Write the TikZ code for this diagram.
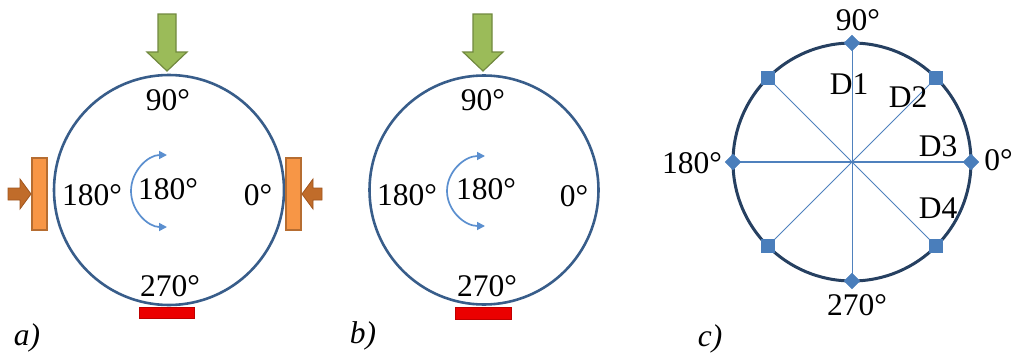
\documentclass[tikz,border=0pt]{standalone}
\usepackage{fontspec}
\setmainfont{Liberation Serif}
\usetikzlibrary{shapes.geometric,arrows.meta}
\definecolor{ringblue}{RGB}{56,93,138}
\definecolor{ringdark}{RGB}{38,64,97}
\definecolor{spoke}{RGB}{79,129,189}
\definecolor{markc}{RGB}{74,126,187}
\definecolor{gfill}{RGB}{155,187,89}
\definecolor{gdraw}{RGB}{113,137,63}
\definecolor{ofill}{RGB}{247,150,70}
\definecolor{odraw}{RGB}{182,109,49}
\definecolor{bfill}{RGB}{192,108,42}
\definecolor{bdraw}{RGB}{160,85,30}
\definecolor{rfill}{RGB}{235,0,0}
\definecolor{rdraw}{RGB}{190,0,0}
\definecolor{rotc}{RGB}{91,143,207}
\begin{document}
\begin{tikzpicture}[x=1pt,y=-1pt,
  lbl/.style={anchor=base,inner sep=0pt,font=\fontsize{31.5}{36}\selectfont},
  ring/.style={circle,draw=ringblue,line width=2.6pt,inner sep=0pt},
  ringc/.style={circle,draw=ringdark,line width=3pt,inner sep=0pt},
  loadarrow/.style={fill=gfill,draw=gdraw,line width=1.2pt,line join=miter},
  pad/.style={fill=ofill,draw=odraw,line width=1.5pt},
  padarrow/.style={fill=bfill,draw=bdraw,line width=0.8pt},
  support/.style={fill=rfill,draw=rdraw,line width=1pt},
  rotarrow/.style={draw=rotc,line width=1.7pt,{Triangle[length=8pt,width=8pt]}-{Triangle[length=8pt,width=8pt]}},
  thinspoke/.style={draw=spoke,line width=0.8pt},
  thickspoke/.style={draw=spoke,line width=2pt},
  dmark/.style={diamond,fill=markc,draw=markc,inner sep=0pt,minimum size=16pt},
  smark/.style={rectangle,fill=markc,draw=markc,inner sep=0pt,minimum size=13pt}]
\useasboundingbox (0,0) rectangle (1014,356);

% ---------------- panel a ----------------
\node[ring,minimum size=230pt] (ra) at (169,190) {};
\draw[loadarrow] (158,14) -- (176,14) -- (176,52) -- (187,52) -- (167,71) -- (147,52) -- (158,52) -- cycle;
\draw[pad] (32,158) rectangle (47,230);
\draw[pad] (286,158) rectangle (301,230);
\draw[padarrow] (8,188) -- (20,188) -- (20,179) -- (31,194) -- (20,209) -- (20,200) -- (8,200) -- cycle;
\draw[padarrow] (322,188) -- (313,188) -- (313,179) -- (302,194) -- (313,209) -- (313,200) -- (322,200) -- cycle;
\draw[support] (139,307) rectangle (194,318);
\draw[rotarrow] (167,155) .. controls (148,155) and (131,171.1) .. (131,191)
                 .. controls (131,210.9) and (148,227) .. (167,227);
\node[lbl] (a90) at (168,110.5) {90°};
\node[lbl] (a180l) at (92,205) {180°};
\node[lbl] (a180c) at (168,199.5) {180°};
\node[lbl] (a0) at (258,205.5) {0°};
\node[lbl] (a270) at (170,296.5) {270°};
\node[lbl] (alab) at (27,345) {\itshape a)};

% ---------------- panel b ----------------
\node[ring,minimum size=229pt] (rb) at (484,190) {};
\draw[loadarrow] (473,14) -- (492,14) -- (492,52) -- (503,52) -- (483,71) -- (463,52) -- (473,52) -- cycle;
\draw[support] (455,307) rectangle (511,319);
\draw[rotarrow] (485,156) .. controls (464.3,156) and (447,171.7) .. (447,191)
                 .. controls (447,210.3) and (464.3,226) .. (485,226);
\node[lbl] (b90) at (483,110) {90°};
\node[lbl] (b180l) at (407,205) {180°};
\node[lbl] (b180c) at (486,199.5) {180°};
\node[lbl] (b0) at (574,206) {0°};
\node[lbl] (b270) at (487,296.5) {270°};
\node[lbl] (blab) at (363,343) {\itshape b)};

% ---------------- panel c ----------------
\coordinate (O) at (852,162);
\coordinate (p90) at (852,43);
\coordinate (p180) at (733,162);
\coordinate (p0) at (971,162);
\coordinate (p270) at (852,281);
\coordinate (p45) at (936,78);
\coordinate (p135) at (768,78);
\coordinate (p225) at (768,246);
\coordinate (p315) at (936,246);
\node[ringc,minimum size=238pt] (rc) at (O) {};
\draw[thinspoke] (O) -- (p90);
\draw[thinspoke] (O) -- (p270);
\draw[thinspoke] (O) -- (p45);
\draw[thinspoke] (O) -- (p135);
\draw[thinspoke] (O) -- (p225);
\draw[thinspoke] (O) -- (p315);
\draw[thickspoke] (p180) -- (p0);
\node[dmark] (m90) at (p90) {};
\node[dmark] (m180) at (p180) {};
\node[dmark] (m0) at (p0) {};
\node[dmark] (m270) at (p270) {};
\node[smark] (m45) at (p45) {};
\node[smark] (m135) at (p135) {};
\node[smark] (m225) at (p225) {};
\node[smark] (m315) at (p315) {};
\node[lbl] (c90) at (858,30) {90°};
\node[lbl] (d1) at (849,94) {D1};
\node[lbl] (d2) at (908,107) {D2};
\node[lbl] (d3) at (938,156) {D3};
\node[lbl,anchor=base east] (c0) at (1013,170) {0°};
\node[lbl] (c180) at (692,173) {180°};
\node[lbl] (d4) at (938,218) {D4};
\node[lbl] (c270) at (857,315) {270°};
\node[lbl] (clab) at (710,346) {\itshape c)};
\end{tikzpicture}
\end{document}
